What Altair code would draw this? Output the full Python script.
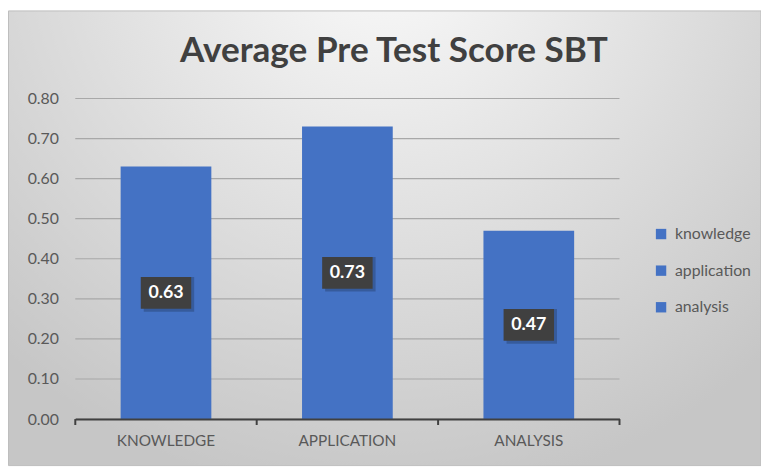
import altair as alt
import pandas as pd

categories = ["KNOWLEDGE", "APPLICATION", "ANALYSIS"]
series_names = ["knowledge", "application", "analysis"]
values = [0.63, 0.73, 0.47]
y_ticks = [0.0, 0.1, 0.2, 0.3, 0.4, 0.5, 0.6, 0.7, 0.8]
category_bounds = [0, 1, 2, 3]

df = pd.DataFrame({"category": categories, "series": series_names, "value": values})
grid_df = pd.DataFrame({"tick": y_ticks})
bounds_df = pd.DataFrame({"b": category_bounds})

W, H = 550, 324
PL, PT, PR, PB = 68, 89, 143, 47
FONT = "Lato"
BLUE = "#4472C4"

bg = alt.Chart(pd.DataFrame({"a": [0]})).mark_rect(
    fill={
        "gradient": "radial",
        "x1": 0.5, "y1": 0.1, "r1": 0,
        "x2": 0.5, "y2": 0.1, "r2": 0.75,
        "stops": [
            {"offset": 0, "color": "#fbfbfb"},
            {"offset": 1, "color": "#c6c6c6"},
        ],
    },
    stroke="#bdbdbd",
    strokeWidth=1,
).encode(
    x=alt.value(-PL + 0.5), x2=alt.value(W + PR),
    y=alt.value(-PT + 0.5), y2=alt.value(H + PB),
)

y_scale = alt.Scale(domain=[0, 0.8], nice=False)
y_axis = alt.Axis(
    title=None, values=y_ticks, format=".2f", labelFont=FONT,
    labelFontSize=16, labelColor="#595959", labelPadding=17,
    domain=False, ticks=False, grid=False, zindex=1,
)

grid = alt.Chart(grid_df).mark_rule(color="#a8a8a8", strokeWidth=1.2).encode(
    y=alt.Y("tick:Q", scale=y_scale, axis=y_axis),
    x=alt.value(0), x2=alt.value(W),
)

x_axis = alt.Axis(
    title=None, labelAngle=0, labelFont=FONT, labelFontSize=15.5,
    labelColor="#595959", labelPadding=15, domainColor="#404040",
    domainWidth=2, ticks=False, grid=False, zindex=1,
)
x_scale = alt.Scale(paddingInner=0.5, paddingOuter=0.25)

bars = alt.Chart(df).mark_bar(color=BLUE).encode(
    x=alt.X("category:N", sort=categories, scale=x_scale, axis=x_axis),
    y=alt.Y("value:Q", scale=y_scale, axis=y_axis),
    color=alt.Color(
        "series:N",
        sort=series_names,
        scale=alt.Scale(domain=series_names, range=[BLUE, BLUE, BLUE]),
        legend=alt.Legend(
            title=None, orient="none", legendX=W + 34, legendY=129,
            symbolType="square", symbolSize=110, symbolStrokeWidth=0,
            labelFont=FONT, labelFontSize=16, labelColor="#595959",
            rowPadding=21, labelOffset=6,
        ),
    ),
)

x_shared = alt.X("category:N", sort=categories, scale=x_scale, axis=x_axis)

shadow = alt.Chart(df).transform_calculate(
    lo="datum.value/2 - 0.0395", hi="datum.value/2 + 0.0395"
).mark_bar(size=51, color="#000000", opacity=0.2, xOffset=3, yOffset=3).encode(
    x=x_shared, y="lo:Q", y2="hi:Q"
)

box = alt.Chart(df).transform_calculate(
    lo="datum.value/2 - 0.0395", hi="datum.value/2 + 0.0395"
).mark_bar(size=51, color="#404040").encode(
    x=x_shared, y="lo:Q", y2="hi:Q"
)

labels = alt.Chart(df).transform_calculate(
    mid="datum.value/2"
).mark_text(color="white", font=FONT, fontSize=18, fontWeight="bold").encode(
    x=x_shared,
    y="mid:Q",
    text=alt.Text("value:Q", format=".2f"),
)

main = alt.layer(bg, grid, bars, shadow, box, labels)

ticks = alt.Chart(bounds_df).mark_rule(color="#404040", strokeWidth=2).encode(
    x=alt.X("b:Q", scale=alt.Scale(domain=[0, 3], nice=False, zero=False), axis=None),
    y=alt.value(H), y2=alt.value(H + 6),
)

chart = alt.layer(main, ticks).resolve_scale(x="independent").properties(
    width=W, height=H,
    padding={"left": PL, "top": PT, "right": PR, "bottom": PB},
    autosize=alt.AutoSizeParams(type="none"),
    title=alt.TitleParams(
        "Average Pre Test Score SBT", font=FONT, fontSize=35.5,
        fontWeight="bold", color="#404040", anchor="middle", dx=47, offset=-60,
    ),
).configure_view(stroke=None)

chart.save("out.html", embed_options={"renderer": "svg", "actions": False})
